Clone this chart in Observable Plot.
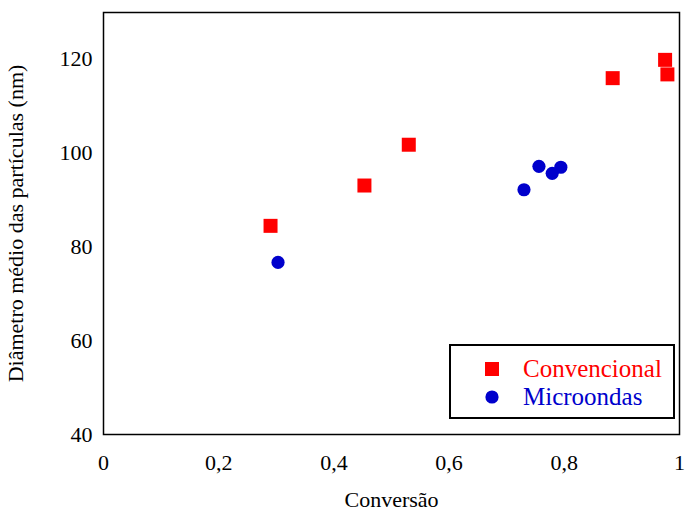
<!DOCTYPE html>
<html>
<head>
<meta charset="utf-8">
<script src="https://cdn.jsdelivr.net/npm/d3@7"></script>
<script src="https://cdn.jsdelivr.net/npm/@observablehq/plot@0.6"></script>
<style>
  body { margin: 0; background: #fff; }
  #wrap { position: relative; width: 685px; height: 512px; font-family: 'Liberation Serif', 'DejaVu Serif', serif; }
  #wrap svg text { font-family: 'Liberation Serif', 'DejaVu Serif', serif; }
  #legend { position: absolute; left: 449px; top: 344px; width: 222px; height: 71px; border: 2.5px solid #000; background: #fff; box-sizing: content-box; }
  .item { position: absolute; left: 0; font-size: 25px; }
  .sym { position: absolute; left: 33px; }
  .lab { position: absolute; left: 72px; white-space: nowrap; line-height: 30px; }
</style>
</head>
<body>
<div id="wrap"></div>
<script>
const series = ["Convencional", "Microondas"];
const colors = ["#ff0000", "#0000cc"];
const convX = [0.290, 0.453, 0.530, 0.884, 0.975, 0.979];
const convY = [84.5, 93.1, 101.8, 116.0, 119.9, 116.8];
const microX = [0.303, 0.730, 0.756, 0.779, 0.794];
const microY = [76.7, 92.2, 97.2, 95.7, 97.0];
const xTicks = [0, 0.2, 0.4, 0.6, 0.8, 1];
const xTickLabels = ["0", "0,2", "0,4", "0,6", "0,8", "1"];
const yTicks = [40, 60, 80, 100, 120];

const conv = convX.map((x, i) => ({x, y: convY[i]}));
const micro = microX.map((x, i) => ({x, y: microY[i]}));

const chart = Plot.plot({
  width: 685,
  height: 512,
  marginLeft: 103,
  marginRight: 6,
  marginTop: 12,
  marginBottom: 78,
  style: {fontFamily: "'Liberation Serif', 'DejaVu Serif', serif", fontSize: "22px", color: "#000", background: "#fff"},
  x: {domain: [0, 1]},
  y: {domain: [40, 130]},
  marks: [
    Plot.frame({stroke: "#000", strokeWidth: 1.5}),
    Plot.axisX({ticks: xTicks, tickFormat: (d, i) => xTickLabels[i], tickSize: 0, tickPadding: 20, fontSize: 22, label: "Conversão", labelAnchor: "center", labelArrow: "none", labelOffset: 72}),
    Plot.axisY({ticks: yTicks, tickSize: 0, tickPadding: 11, fontSize: 22, label: "Diâmetro médio das partículas (nm)", labelAnchor: "center", labelArrow: "none", labelOffset: 96}),
    Plot.dot(conv, {x: "x", y: "y", symbol: "square", r: 7.9, fill: colors[0], stroke: "none"}),
    Plot.dot(micro, {x: "x", y: "y", symbol: "circle", r: 6.6, fill: colors[1], stroke: "none"})
  ]
});

const wrap = document.getElementById("wrap");
wrap.appendChild(chart);

const legend = document.createElement("div");
legend.id = "legend";
const syms = ["square", "circle"];
const NS = "http://www.w3.org/2000/svg";
series.forEach((name, i) => {
  const row = document.createElement("div");
  row.className = "item";
  row.style.top = (i === 0 ? 8 : 36) + "px";
  row.style.height = "30px";
  row.style.width = "100%";
  const s = document.createElementNS(NS, "svg");
  s.setAttribute("width", 16); s.setAttribute("height", 16);
  s.setAttribute("class", "sym");
  s.style.top = "7px";
  let shape;
  if (syms[i] === "square") {
    shape = document.createElementNS(NS, "rect");
    shape.setAttribute("x", 1); shape.setAttribute("y", 1); shape.setAttribute("width", 14); shape.setAttribute("height", 14);
  } else {
    shape = document.createElementNS(NS, "circle");
    shape.setAttribute("cx", 8); shape.setAttribute("cy", 8); shape.setAttribute("r", 6.6);
  }
  shape.setAttribute("fill", colors[i]);
  s.appendChild(shape);
  const lab = document.createElement("span");
  lab.className = "lab";
  lab.textContent = name;
  lab.style.color = colors[i];
  row.appendChild(s);
  row.appendChild(lab);
  legend.appendChild(row);
});
wrap.appendChild(legend);
</script>
</body>
</html>
